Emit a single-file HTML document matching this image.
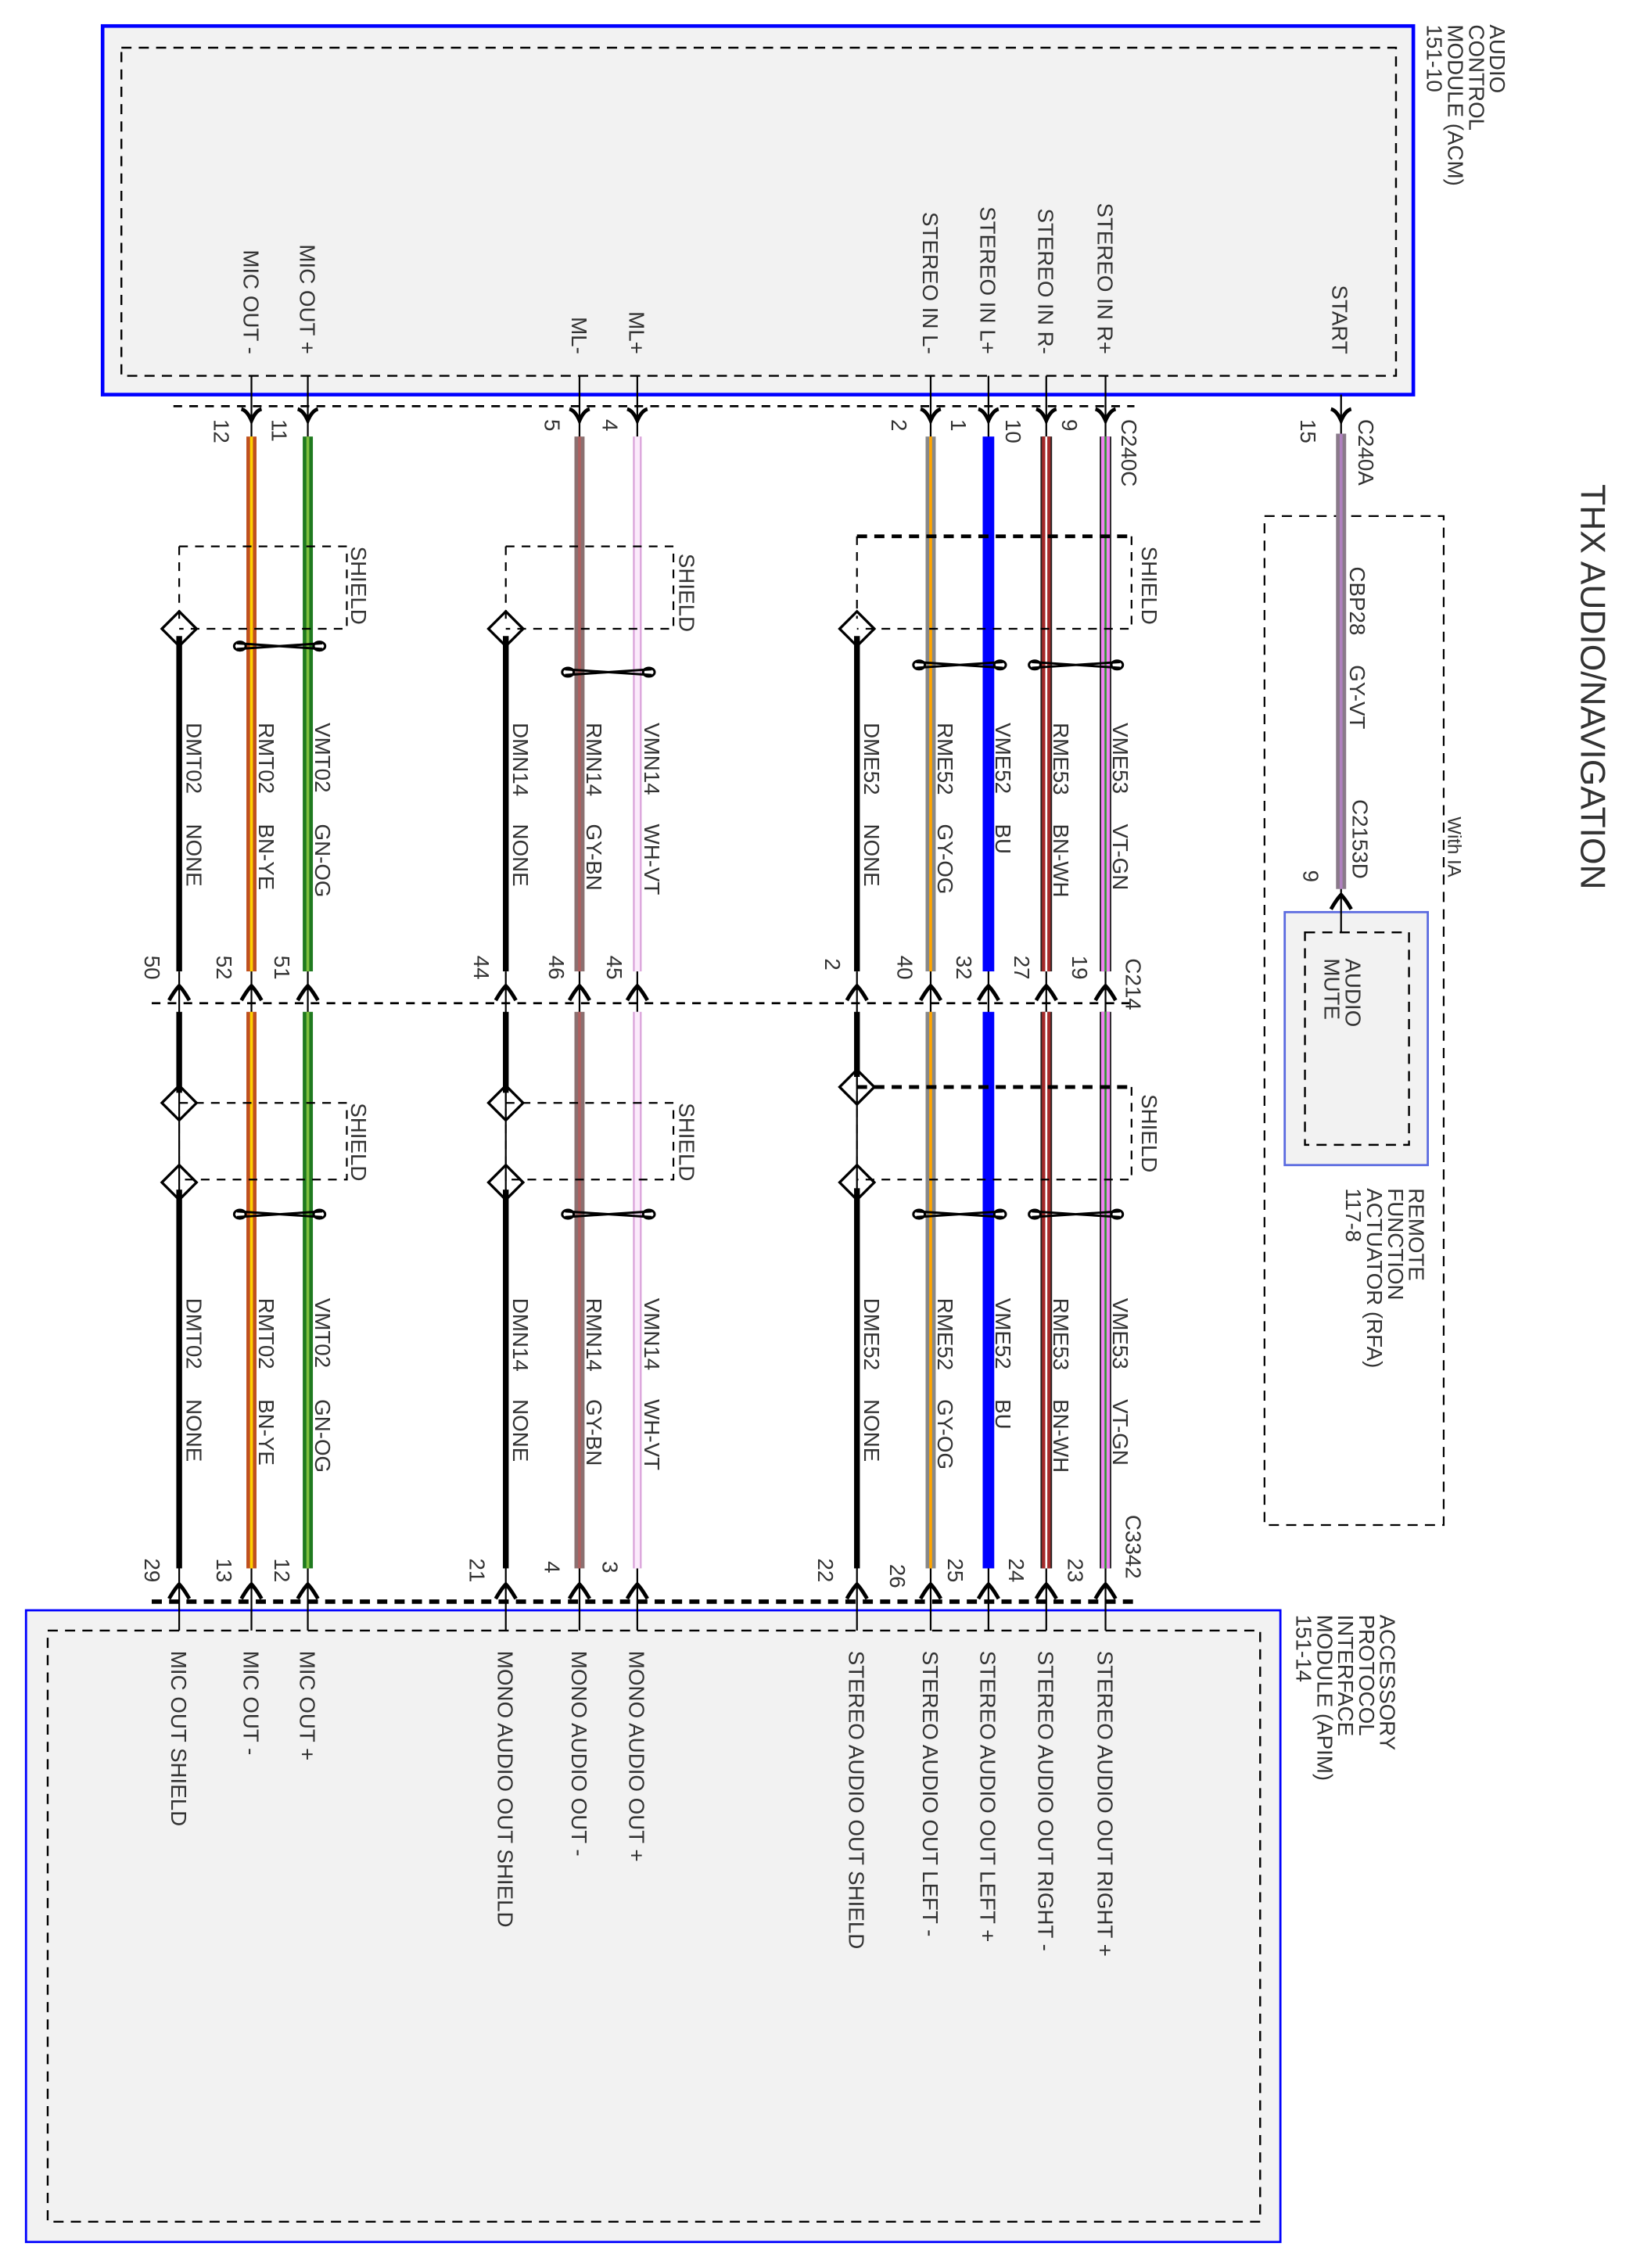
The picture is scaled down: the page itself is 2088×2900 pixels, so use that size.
<!DOCTYPE html>
<html><head><meta charset="utf-8"><style>
html,body{margin:0;padding:0;background:#fff}
svg{display:block}
text{font-family:"Liberation Sans",Arial,sans-serif;font-size:15px;fill:#333}
</style></head><body>
<svg xmlns="http://www.w3.org/2000/svg" xmlns:xlink="http://www.w3.org/1999/xlink" width="2088" height="2900" viewBox="0 0 1130 1569" preserveAspectRatio="none">
<defs>
<path id="ad" d="M-7,-6 Q-3,-5 0,2 Q3,-5 7,-6" fill="none" stroke="#000" stroke-width="2.6"/>
<path id="au" d="M-7,5 Q-3,-2 0,-5 Q3,-2 7,5" fill="none" stroke="#000" stroke-width="2.6"/>
</defs>
<rect width="1130" height="1569" fill="#fff"/>

<rect x="71" y="18" width="907" height="255" fill="#f2f2f2" stroke="#0000ff" stroke-width="2.5"/>
<rect x="84" y="33" width="882" height="227" fill="none" stroke="#000" stroke-width="1.3" stroke-dasharray="7,5"/>
<rect x="18" y="1114" width="868" height="437" fill="#f2f2f2" stroke="#0000ff" stroke-width="1.5"/>
<rect x="33" y="1128" width="839" height="409" fill="none" stroke="#000" stroke-width="1.3" stroke-dasharray="7,5"/>
<rect x="875" y="357" width="124" height="698" fill="none" stroke="#000" stroke-width="1.2" stroke-dasharray="7,5"/>
<rect x="889" y="631" width="99" height="175" fill="#f2f2f2" stroke="#5a6ae0" stroke-width="1.5"/>
<rect x="903" y="645" width="72" height="147" fill="none" stroke="#000" stroke-width="1.3" stroke-dasharray="7,5"/>

<line x1="120" y1="281" x2="785" y2="281" stroke="#000" stroke-width="1.5" stroke-dasharray="6,5"/>
<line x1="105" y1="694" x2="785" y2="694" stroke="#000" stroke-width="1.5" stroke-dasharray="6,5"/>
<line x1="105" y1="1108" x2="785" y2="1108" stroke="#000" stroke-width="3" stroke-dasharray="7,5"/>

<g stroke="#000" stroke-width="1.2">
<line x1="765" y1="260" x2="765" y2="1128"/><line x1="724" y1="260" x2="724" y2="1128"/>
<line x1="684" y1="260" x2="684" y2="1128"/><line x1="644" y1="260" x2="644" y2="1128"/>
<line x1="593" y1="672" x2="593" y2="1128"/>
<line x1="441" y1="260" x2="441" y2="1128"/><line x1="401" y1="260" x2="401" y2="1128"/>
<line x1="350" y1="672" x2="350" y2="1128"/>
<line x1="213" y1="260" x2="213" y2="1128"/><line x1="174" y1="260" x2="174" y2="1128"/>
<line x1="124" y1="672" x2="124" y2="1128"/>
<line x1="928" y1="273" x2="928" y2="645"/>
</g>

<g>
<rect x="761" y="302" width="8" height="370" fill="#222"/><rect x="762" y="302" width="6" height="370" fill="#ee82ee"/><rect x="764.3" y="302" width="1.4" height="370" fill="#2a9a2a"/>
<rect x="761" y="700" width="8" height="385" fill="#222"/><rect x="762" y="700" width="6" height="385" fill="#ee82ee"/><rect x="764.3" y="700" width="1.4" height="385" fill="#2a9a2a"/>
<rect x="720" y="302" width="8" height="370" fill="#222"/><rect x="721" y="302" width="6" height="370" fill="#a52a2a"/><rect x="723.3" y="302" width="1.4" height="370" fill="#fff"/>
<rect x="720" y="700" width="8" height="385" fill="#222"/><rect x="721" y="700" width="6" height="385" fill="#a52a2a"/><rect x="723.3" y="700" width="1.4" height="385" fill="#fff"/>
<rect x="680" y="302" width="8" height="370" fill="#0000ff"/>
<rect x="680" y="700" width="8" height="385" fill="#0000ff"/>
<rect x="640.5" y="302" width="7" height="370" fill="#888"/><rect x="643" y="302" width="2" height="370" fill="#ffa500"/>
<rect x="640.5" y="700" width="7" height="385" fill="#888"/><rect x="643" y="700" width="2" height="385" fill="#ffa500"/>
<rect x="591" y="440" width="4" height="232" fill="#000"/>
<rect x="591" y="700" width="4" height="45" fill="#000"/>
<rect x="591" y="822" width="4" height="263" fill="#000"/>
<line x1="593" y1="745" x2="593" y2="822" stroke="#000" stroke-width="1" stroke-dasharray="6,5"/>
<rect x="438" y="302" width="6" height="370" fill="#d9a0d9"/><rect x="439.2" y="302" width="3.6" height="370" fill="#fbeafb"/>
<rect x="438" y="700" width="6" height="385" fill="#d9a0d9"/><rect x="439.2" y="700" width="3.6" height="385" fill="#fbeafb"/>
<rect x="397.5" y="302" width="7" height="370" fill="#8b7070"/><rect x="400" y="302" width="2" height="370" fill="#b06060"/>
<rect x="397.5" y="700" width="7" height="385" fill="#8b7070"/><rect x="400" y="700" width="2" height="385" fill="#b06060"/>
<rect x="348" y="440" width="4" height="232" fill="#000"/>
<rect x="348" y="700" width="4" height="56" fill="#000"/>
<rect x="348" y="823" width="4" height="262" fill="#000"/>
<line x1="350" y1="756" x2="350" y2="823" stroke="#000" stroke-width="1" stroke-dasharray="6,5"/>
<rect x="209.5" y="302" width="7" height="370" fill="#1f7a1f"/><rect x="212" y="302" width="2" height="370" fill="#7fbf3f"/>
<rect x="209.5" y="700" width="7" height="385" fill="#1f7a1f"/><rect x="212" y="700" width="2" height="385" fill="#7fbf3f"/>
<rect x="170.5" y="302" width="7" height="370" fill="#c0501f"/><rect x="173" y="302" width="2" height="370" fill="#ffd000"/>
<rect x="170.5" y="700" width="7" height="385" fill="#c0501f"/><rect x="173" y="700" width="2" height="385" fill="#ffd000"/>
<rect x="122" y="440" width="4" height="232" fill="#000"/>
<rect x="122" y="700" width="4" height="56" fill="#000"/>
<rect x="122" y="823" width="4" height="262" fill="#000"/>
<line x1="124" y1="756" x2="124" y2="823" stroke="#000" stroke-width="1" stroke-dasharray="6,5"/>
<rect x="924.5" y="300" width="7" height="315" fill="#8a7a8a"/><rect x="927" y="300" width="2" height="315" fill="#b080c0"/>
</g>

<g fill="none" stroke="#000">
<line x1="593" y1="371" x2="783" y2="371" stroke-width="2.6" stroke-dasharray="7,5"/>
<path d="M783,371 V435 H593 M593,371 V428" stroke-width="1.2" stroke-dasharray="6,5"/>
<path d="M350,378 H466 V435 H350 M350,378 V428" stroke-width="1.2" stroke-dasharray="6,5"/>
<path d="M124,378 H240 V435 H124 M124,378 V428" stroke-width="1.2" stroke-dasharray="6,5"/>
<line x1="593" y1="752" x2="783" y2="752" stroke-width="2.6" stroke-dasharray="7,5"/>
<path d="M783,752 V816 H593" stroke-width="1.2" stroke-dasharray="6,5"/>
<path d="M350,763 H466 V816 H350" stroke-width="1.2" stroke-dasharray="6,5"/>
<path d="M124,763 H240 V816 H124" stroke-width="1.2" stroke-dasharray="6,5"/>
<g stroke-width="1.8">
<path d="M593,423 L605,435 L593,447 L581,435 Z"/><path d="M350,423 L362,435 L350,447 L338,435 Z"/><path d="M124,423 L136,435 L124,447 L112,435 Z"/>
<path d="M593,740 L605,752 L593,764 L581,752 Z"/><path d="M593,806 L605,818 L593,830 L581,818 Z"/>
<path d="M350,751 L362,763 L350,775 L338,763 Z"/><path d="M350,806 L362,818 L350,830 L338,818 Z"/>
<path d="M124,751 L136,763 L124,775 L112,763 Z"/><path d="M124,806 L136,818 L124,830 L112,818 Z"/>
</g>
</g>

<g fill="none" stroke="#000" stroke-width="1.6">
<path d="M714,458 L775,462 M714,462 L775,458"/><ellipse cx="716" cy="460" rx="4" ry="3"/><ellipse cx="773" cy="460" rx="4" ry="3"/>
<path d="M634,458 L694,462 M634,462 L694,458"/><ellipse cx="636" cy="460" rx="4" ry="3"/><ellipse cx="692" cy="460" rx="4" ry="3"/>
<path d="M391,463 L451,467 M391,467 L451,463"/><ellipse cx="393" cy="465" rx="4" ry="3"/><ellipse cx="449" cy="465" rx="4" ry="3"/>
<path d="M164,445 L223,449 M164,449 L223,445"/><ellipse cx="166" cy="447" rx="4" ry="3"/><ellipse cx="221" cy="447" rx="4" ry="3"/>
<path d="M714,838 L775,842 M714,842 L775,838"/><ellipse cx="716" cy="840" rx="4" ry="3"/><ellipse cx="773" cy="840" rx="4" ry="3"/>
<path d="M634,838 L694,842 M634,842 L694,838"/><ellipse cx="636" cy="840" rx="4" ry="3"/><ellipse cx="692" cy="840" rx="4" ry="3"/>
<path d="M391,838 L451,842 M391,842 L451,838"/><ellipse cx="393" cy="840" rx="4" ry="3"/><ellipse cx="449" cy="840" rx="4" ry="3"/>
<path d="M164,838 L223,842 M164,842 L223,838"/><ellipse cx="166" cy="840" rx="4" ry="3"/><ellipse cx="221" cy="840" rx="4" ry="3"/>
</g>

<g>
<use xlink:href="#ad" x="765" y="289"/><use xlink:href="#ad" x="724" y="289"/><use xlink:href="#ad" x="684" y="289"/><use xlink:href="#ad" x="644" y="289"/>
<use xlink:href="#ad" x="441" y="289"/><use xlink:href="#ad" x="401" y="289"/><use xlink:href="#ad" x="213" y="289"/><use xlink:href="#ad" x="174" y="289"/>
<use xlink:href="#ad" x="928" y="289"/><use xlink:href="#au" x="928" y="624"/>
<use xlink:href="#au" x="765" y="687"/><use xlink:href="#au" x="724" y="687"/><use xlink:href="#au" x="684" y="687"/><use xlink:href="#au" x="644" y="687"/><use xlink:href="#au" x="593" y="687"/>
<use xlink:href="#au" x="441" y="687"/><use xlink:href="#au" x="401" y="687"/><use xlink:href="#au" x="350" y="687"/>
<use xlink:href="#au" x="213" y="687"/><use xlink:href="#au" x="174" y="687"/><use xlink:href="#au" x="124" y="687"/>
<use xlink:href="#au" x="765" y="1101"/><use xlink:href="#au" x="724" y="1101"/><use xlink:href="#au" x="684" y="1101"/><use xlink:href="#au" x="644" y="1101"/><use xlink:href="#au" x="593" y="1101"/>
<use xlink:href="#au" x="441" y="1101"/><use xlink:href="#au" x="401" y="1101"/><use xlink:href="#au" x="350" y="1101"/>
<use xlink:href="#au" x="213" y="1101"/><use xlink:href="#au" x="174" y="1101"/><use xlink:href="#au" x="124" y="1101"/>
</g>

<g transform="translate(1094,335) rotate(90)"><text style="font-size:24px">THX AUDIO/NAVIGATION</text></g>

<g transform="translate(1031,17) rotate(90)"><text><tspan x="0" y="0">AUDIO</tspan><tspan x="0" dy="14.5">CONTROL</tspan><tspan x="0" dy="14.5">MODULE (ACM)</tspan><tspan x="0" dy="14.5">151-10</tspan></text></g>
<g transform="translate(975,822) rotate(90)"><text><tspan x="0" y="0">REMOTE</tspan><tspan x="0" dy="14.5">FUNCTION</tspan><tspan x="0" dy="14.5">ACTUATOR (RFA)</tspan><tspan x="0" dy="14.5">117-8</tspan></text></g>
<g transform="translate(955,1117) rotate(90)"><text><tspan x="0" y="0">ACCESSORY</tspan><tspan x="0" dy="14.5">PROTOCOL</tspan><tspan x="0" dy="14.5">INTERFACE</tspan><tspan x="0" dy="14.5">MODULE (APIM)</tspan><tspan x="0" dy="14.5">151-14</tspan></text></g>
<g transform="translate(931,663) rotate(90)"><text><tspan x="0" y="0">AUDIO</tspan><tspan x="0" dy="14.5">MUTE</tspan></text></g>
<g transform="translate(1002,565) rotate(90)"><text style="font-size:13px">With IA</text></g>

<g text-anchor="end">
<g transform="translate(922,245) rotate(90)"><text>START</text></g>
<g transform="translate(759.5,245) rotate(90)"><text>STEREO IN R+</text></g>
<g transform="translate(718.5,245) rotate(90)"><text>STEREO IN R-</text></g>
<g transform="translate(678.5,245) rotate(90)"><text>STEREO IN L+</text></g>
<g transform="translate(638.5,245) rotate(90)"><text>STEREO IN L-</text></g>
<g transform="translate(435.5,245) rotate(90)"><text>ML+</text></g>
<g transform="translate(395.5,245) rotate(90)"><text>ML-</text></g>
<g transform="translate(207.5,245) rotate(90)"><text>MIC OUT +</text></g>
<g transform="translate(168.5,245) rotate(90)"><text>MIC OUT -</text></g>
</g>

<g transform="translate(759.5,1142) rotate(90)"><text>STEREO AUDIO OUT RIGHT +</text></g>
<g transform="translate(718.5,1142) rotate(90)"><text>STEREO AUDIO OUT RIGHT -</text></g>
<g transform="translate(678.5,1142) rotate(90)"><text>STEREO AUDIO OUT LEFT +</text></g>
<g transform="translate(638.5,1142) rotate(90)"><text>STEREO AUDIO OUT LEFT -</text></g>
<g transform="translate(587.5,1142) rotate(90)"><text>STEREO AUDIO OUT SHIELD</text></g>
<g transform="translate(435.5,1142) rotate(90)"><text>MONO AUDIO OUT +</text></g>
<g transform="translate(395.5,1142) rotate(90)"><text>MONO AUDIO OUT -</text></g>
<g transform="translate(344.5,1142) rotate(90)"><text>MONO AUDIO OUT SHIELD</text></g>
<g transform="translate(207.5,1142) rotate(90)"><text>MIC OUT +</text></g>
<g transform="translate(168.5,1142) rotate(90)"><text>MIC OUT -</text></g>
<g transform="translate(118.5,1142) rotate(90)"><text>MIC OUT SHIELD</text></g>

<g>
<g transform="translate(770,500) rotate(90)"><text>VME53</text></g><g transform="translate(770,570) rotate(90)"><text>VT-GN</text></g>
<g transform="translate(729,500) rotate(90)"><text>RME53</text></g><g transform="translate(729,570) rotate(90)"><text>BN-WH</text></g>
<g transform="translate(689,500) rotate(90)"><text>VME52</text></g><g transform="translate(689,570) rotate(90)"><text>BU</text></g>
<g transform="translate(649,500) rotate(90)"><text>RME52</text></g><g transform="translate(649,570) rotate(90)"><text>GY-OG</text></g>
<g transform="translate(598,500) rotate(90)"><text>DME52</text></g><g transform="translate(598,570) rotate(90)"><text>NONE</text></g>
<g transform="translate(446,500) rotate(90)"><text>VMN14</text></g><g transform="translate(446,570) rotate(90)"><text>WH-VT</text></g>
<g transform="translate(406,500) rotate(90)"><text>RMN14</text></g><g transform="translate(406,570) rotate(90)"><text>GY-BN</text></g>
<g transform="translate(355,500) rotate(90)"><text>DMN14</text></g><g transform="translate(355,570) rotate(90)"><text>NONE</text></g>
<g transform="translate(218,500) rotate(90)"><text>VMT02</text></g><g transform="translate(218,570) rotate(90)"><text>GN-OG</text></g>
<g transform="translate(179,500) rotate(90)"><text>RMT02</text></g><g transform="translate(179,570) rotate(90)"><text>BN-YE</text></g>
<g transform="translate(129,500) rotate(90)"><text>DMT02</text></g><g transform="translate(129,570) rotate(90)"><text>NONE</text></g>

<g transform="translate(770,898) rotate(90)"><text>VME53</text></g><g transform="translate(770,968) rotate(90)"><text>VT-GN</text></g>
<g transform="translate(729,898) rotate(90)"><text>RME53</text></g><g transform="translate(729,968) rotate(90)"><text>BN-WH</text></g>
<g transform="translate(689,898) rotate(90)"><text>VME52</text></g><g transform="translate(689,968) rotate(90)"><text>BU</text></g>
<g transform="translate(649,898) rotate(90)"><text>RME52</text></g><g transform="translate(649,968) rotate(90)"><text>GY-OG</text></g>
<g transform="translate(598,898) rotate(90)"><text>DME52</text></g><g transform="translate(598,968) rotate(90)"><text>NONE</text></g>
<g transform="translate(446,898) rotate(90)"><text>VMN14</text></g><g transform="translate(446,968) rotate(90)"><text>WH-VT</text></g>
<g transform="translate(406,898) rotate(90)"><text>RMN14</text></g><g transform="translate(406,968) rotate(90)"><text>GY-BN</text></g>
<g transform="translate(355,898) rotate(90)"><text>DMN14</text></g><g transform="translate(355,968) rotate(90)"><text>NONE</text></g>
<g transform="translate(218,898) rotate(90)"><text>VMT02</text></g><g transform="translate(218,968) rotate(90)"><text>GN-OG</text></g>
<g transform="translate(179,898) rotate(90)"><text>RMT02</text></g><g transform="translate(179,968) rotate(90)"><text>BN-YE</text></g>
<g transform="translate(129,898) rotate(90)"><text>DMT02</text></g><g transform="translate(129,968) rotate(90)"><text>NONE</text></g>

<g transform="translate(934,392) rotate(90)"><text>CBP28</text></g><g transform="translate(934,460) rotate(90)"><text>GY-VT</text></g>
</g>

<g transform="translate(790,378) rotate(90)"><text>SHIELD</text></g>
<g transform="translate(470,383) rotate(90)"><text>SHIELD</text></g>
<g transform="translate(243,378) rotate(90)"><text>SHIELD</text></g>
<g transform="translate(790,757) rotate(90)"><text>SHIELD</text></g>
<g transform="translate(470,763) rotate(90)"><text>SHIELD</text></g>
<g transform="translate(243,763) rotate(90)"><text>SHIELD</text></g>

<g>
<g transform="translate(940,290) rotate(90)"><text>C240A</text></g>
<g transform="translate(900,290) rotate(90)"><text>15</text></g>
<g transform="translate(776,290) rotate(90)"><text>C240C</text></g>
<g transform="translate(735,290) rotate(90)"><text>9</text></g>
<g transform="translate(696,290) rotate(90)"><text>10</text></g>
<g transform="translate(658,290) rotate(90)"><text>1</text></g>
<g transform="translate(617,290) rotate(90)"><text>2</text></g>
<g transform="translate(417,290) rotate(90)"><text>4</text></g>
<g transform="translate(377,290) rotate(90)"><text>5</text></g>
<g transform="translate(188,290) rotate(90)"><text>11</text></g>
<g transform="translate(148,290) rotate(90)"><text>12</text></g>

<g transform="translate(936,553) rotate(90)"><text>C2153D</text></g>
<g transform="translate(902,602) rotate(90)"><text>9</text></g>

<g transform="translate(779,663) rotate(90)"><text>C214</text></g>
<g transform="translate(742,661) rotate(90)"><text>19</text></g>
<g transform="translate(702,661) rotate(90)"><text>27</text></g>
<g transform="translate(662,661) rotate(90)"><text>32</text></g>
<g transform="translate(621,661) rotate(90)"><text>40</text></g>
<g transform="translate(571,663) rotate(90)"><text>2</text></g>
<g transform="translate(420,661) rotate(90)"><text>45</text></g>
<g transform="translate(380,661) rotate(90)"><text>46</text></g>
<g transform="translate(328,661) rotate(90)"><text>44</text></g>
<g transform="translate(190,661) rotate(90)"><text>51</text></g>
<g transform="translate(150,661) rotate(90)"><text>52</text></g>
<g transform="translate(100,661) rotate(90)"><text>50</text></g>

<g transform="translate(779,1048) rotate(90)"><text>C3342</text></g>
<g transform="translate(739,1078) rotate(90)"><text>23</text></g>
<g transform="translate(698,1078) rotate(90)"><text>24</text></g>
<g transform="translate(656,1078) rotate(90)"><text>25</text></g>
<g transform="translate(616,1082) rotate(90)"><text>26</text></g>
<g transform="translate(566,1078) rotate(90)"><text>22</text></g>
<g transform="translate(417,1080) rotate(90)"><text>3</text></g>
<g transform="translate(377,1080) rotate(90)"><text>4</text></g>
<g transform="translate(325,1078) rotate(90)"><text>21</text></g>
<g transform="translate(190,1078) rotate(90)"><text>12</text></g>
<g transform="translate(150,1078) rotate(90)"><text>13</text></g>
<g transform="translate(100,1078) rotate(90)"><text>29</text></g>
</g>
</svg>
</body></html>
